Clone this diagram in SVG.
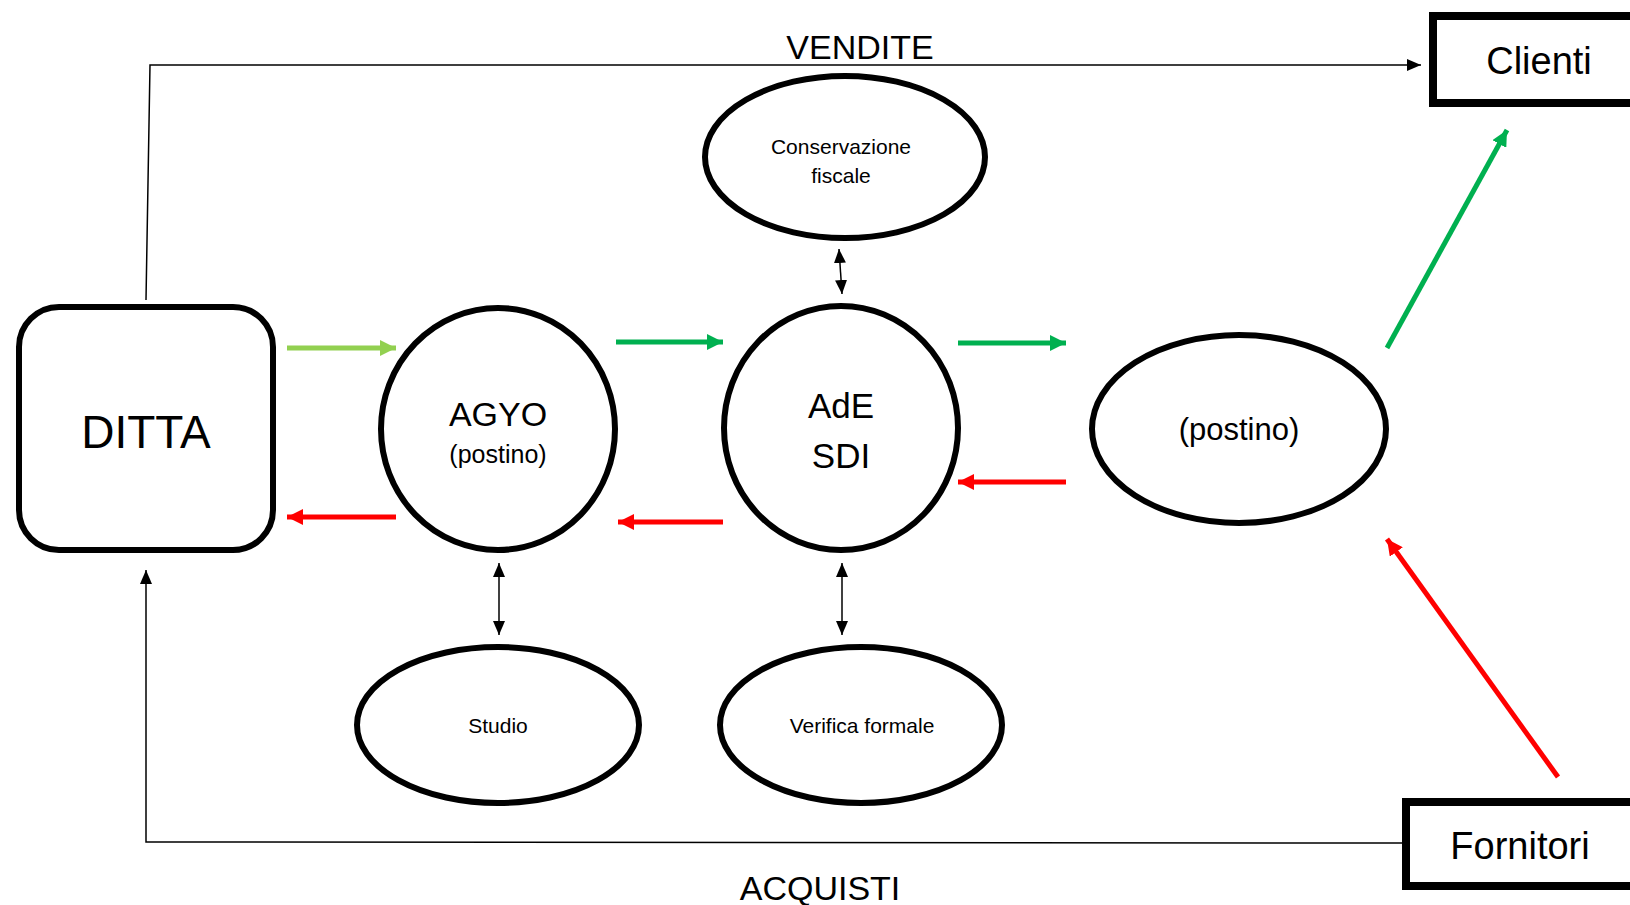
<svg xmlns="http://www.w3.org/2000/svg" width="1630" height="905" viewBox="0 0 1630 905">
<style>
.node{fill:#fff;stroke:#000;stroke-width:6}
.box{fill:#fff;stroke:#000;stroke-width:8}
.t{font-family:"Liberation Sans",Arial,sans-serif;fill:#000;text-anchor:middle}
.thin{fill:none;stroke:#000;stroke-width:1.5}
.lg{stroke:#92D050;stroke-width:5;fill:none}
.g{stroke:#00B050;stroke-width:5;fill:none}
.r{stroke:#FF0000;stroke-width:5;fill:none}
</style>
<defs>
<marker id="mk" markerUnits="userSpaceOnUse" markerWidth="14" markerHeight="12" refX="14" refY="6" orient="auto-start-reverse"><path d="M0,0 L14,6 L0,12 z" fill="#000"/></marker>
<marker id="mlg" markerUnits="userSpaceOnUse" markerWidth="16" markerHeight="16" refX="16" refY="8" orient="auto"><path d="M0,0 L16,8 L0,16 z" fill="#92D050"/></marker>
<marker id="mg" markerUnits="userSpaceOnUse" markerWidth="16" markerHeight="16" refX="16" refY="8" orient="auto"><path d="M0,0 L16,8 L0,16 z" fill="#00B050"/></marker>
<marker id="mr" markerUnits="userSpaceOnUse" markerWidth="16" markerHeight="16" refX="16" refY="8" orient="auto"><path d="M0,0 L16,8 L0,16 z" fill="#FF0000"/></marker>
</defs>
<rect width="1630" height="905" fill="#fff"/>
<g id="connectors">
<path class="thin" d="M146,300 L150,65 L1421,65" marker-end="url(#mk)"/>
<path class="thin" d="M1402,843 L146,842 L146,570" marker-end="url(#mk)"/>
<path class="lg" d="M287,348 L396,348" marker-end="url(#mlg)"/>
<path class="r" d="M396,517 L287,517" marker-end="url(#mr)"/>
<path class="g" d="M616,342 L723,342" marker-end="url(#mg)"/>
<path class="r" d="M723,522 L618,522" marker-end="url(#mr)"/>
<path class="g" d="M958,343 L1066,343" marker-end="url(#mg)"/>
<path class="r" d="M1066,482 L958,482" marker-end="url(#mr)"/>
<path class="g" d="M1387,348 L1507,130" marker-end="url(#mg)"/>
<path class="r" d="M1558,777 L1387,539" marker-end="url(#mr)"/>
<path class="thin" d="M839,249 L842,294" marker-start="url(#mk)" marker-end="url(#mk)"/>
<path class="thin" d="M499,563 L499,635" marker-start="url(#mk)" marker-end="url(#mk)"/>
<path class="thin" d="M842,563 L842,635" marker-start="url(#mk)" marker-end="url(#mk)"/>
</g>
<g id="label-vendite"><text class="t" x="860" y="59" font-size="34">VENDITE</text></g>
<g id="label-acquisti"><text class="t" x="820" y="900" font-size="34">ACQUISTI</text></g>
<g id="ditta">
<rect class="node" x="19" y="307" width="254" height="243" rx="40"/>
<text class="t" x="146" y="448" font-size="46">DITTA</text>
</g>
<g id="clienti">
<rect class="box" x="1433" y="16" width="220" height="87"/>
<text class="t" x="1539" y="74" font-size="38">Clienti</text>
</g>
<g id="fornitori">
<rect class="box" x="1406" y="802" width="240" height="84"/>
<text class="t" x="1520" y="859" font-size="38">Fornitori</text>
</g>
<g id="agyo">
<ellipse class="node" cx="498" cy="429" rx="117" ry="121"/>
<text class="t" x="498" y="426" font-size="34">AGYO</text>
<text class="t" x="498" y="463" font-size="25">(postino)</text>
</g>
<g id="ade">
<ellipse class="node" cx="841" cy="428" rx="117" ry="122"/>
<text class="t" x="841" y="418" font-size="35">AdE</text>
<text class="t" x="841" y="468" font-size="35">SDI</text>
</g>
<g id="conservazione">
<ellipse class="node" cx="845" cy="157" rx="140" ry="81"/>
<text class="t" x="841" y="154" font-size="21">Conservazione</text>
<text class="t" x="841" y="183" font-size="21">fiscale</text>
</g>
<g id="postino">
<ellipse class="node" cx="1239" cy="429" rx="147" ry="94"/>
<text class="t" x="1239" y="440" font-size="31">(postino)</text>
</g>
<g id="studio">
<ellipse class="node" cx="498" cy="725" rx="141" ry="78"/>
<text class="t" x="498" y="733" font-size="21">Studio</text>
</g>
<g id="verifica">
<ellipse class="node" cx="861" cy="725" rx="141" ry="78"/>
<text class="t" x="862" y="733" font-size="21">Verifica formale</text>
</g>
</svg>
